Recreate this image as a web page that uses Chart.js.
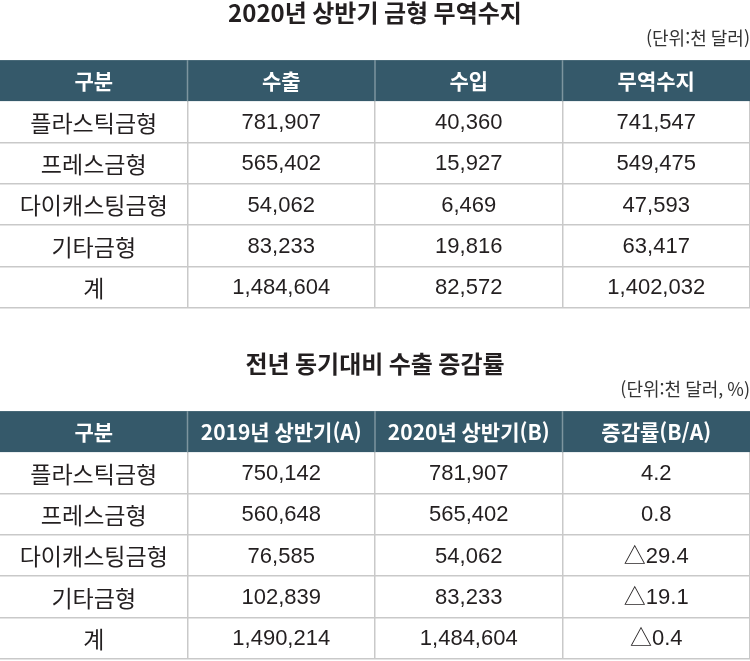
<!DOCTYPE html>
<html lang="ko">
<head>
<meta charset="utf-8">
<title>2020년 상반기 금형 무역수지</title>
<script src="https://cdn.jsdelivr.net/npm/chart.js@4/dist/chart.umd.min.js"></script>
<style>
    html, body { margin: 0; padding: 0; background: #ffffff; }
    #page { position: relative; width: 750px; height: 661px; overflow: hidden; }
    .table-box { position: absolute; left: 0; width: 750px; }
    #tradeBox { top: 0; height: 310px; }
    #growthBox { top: 351px; height: 310px; }
</style>
</head>
<body>
<div id="page">
    <div class="table-box" id="tradeBox"><canvas id="tradeChart" width="750" height="310"></canvas></div>
    <div class="table-box" id="growthBox"><canvas id="growthChart" width="750" height="310"></canvas></div>
</div>
<script>
// ============================================================================
// 금형 무역수지 / 수출 증감률 표 (Chart.js 로 그리기)
// ============================================================================

// --- 데이터 ---
const moldTypes = ['플라스틱금형', '프레스금형', '다이캐스팅금형', '기타금형', '계'];

const tradeColumns = ['구분', '수출', '수입', '무역수지'];
const exportsH1 = [781907, 565402, 54062, 83233, 1484604];
const importsH1 = [40360, 15927, 6469, 19816, 82572];
const tradeBalance = [741547, 549475, 47593, 63417, 1402032];

const growthColumns = ['구분', '2019년 상반기(A)', '2020년 상반기(B)', '증감률(B/A)'];
const exports2019 = [750142, 560648, 76585, 102839, 1490214];
const exports2020 = [781907, 565402, 54062, 83233, 1484604];
const growthRate = [4.2, 0.8, -29.4, -19.1, -0.4];

// --- 스타일 ---
const HEADER_BG = '#35596a';
const HEADER_SEP = '#7d959f';
const GRID_COLOR = '#c9c9c9';
const TEXT_COLOR = '#231f20';
const KR_FONT = "'Noto Sans CJK KR', 'Noto Sans', sans-serif";
const NUM_FONT = "'Liberation Sans', 'Noto Sans CJK KR', sans-serif";

const fmtNumber = v => v.toLocaleString('en-US');
const fmtRate = v => (v < 0 ? '\u25B3' + Math.abs(v).toFixed(1) : v.toFixed(1));

// 헤더 띠 + 셀 텍스트
const tableCellsPlugin = {
    id: 'tableCells',
    afterDraw(chart) {
        const ctx = chart.ctx;
        const xScale = chart.scales.x;
        const area = chart.chartArea;
        const labels = xScale.getLabels();

        // header band
        ctx.save();
        ctx.fillStyle = HEADER_BG;
        ctx.fillRect(area.left, xScale.top, area.right - area.left, xScale.bottom - xScale.top);

        ctx.strokeStyle = HEADER_SEP;
        ctx.lineWidth = 1.5;
        for (let i = 1; i < labels.length; i++) {
            const sx = (xScale.getPixelForValue(i - 1) + xScale.getPixelForValue(i)) / 2;
            ctx.beginPath();
            ctx.moveTo(sx, xScale.top);
            ctx.lineTo(sx, xScale.bottom);
            ctx.stroke();
        }

        ctx.fillStyle = '#ffffff';
        ctx.font = `bold 21px ${KR_FONT}`;
        ctx.textAlign = 'center';
        ctx.textBaseline = 'middle';
        const hy = (xScale.top + xScale.bottom) / 2;
        labels.forEach((label, i) => {
            ctx.fillText(label, xScale.getPixelForValue(i), hy);
        });

        // cells
        ctx.fillStyle = TEXT_COLOR;
        chart.data.datasets.forEach((ds, di) => {
            const meta = chart.getDatasetMeta(di);
            ctx.font = di === 0 ? `23px ${KR_FONT}` : `22px ${NUM_FONT}`;
            meta.data.forEach((el, i) => {
                ctx.fillText(ds.texts[i], el.x, el.y + 1);
            });
        });
        ctx.restore();
    }
};

function renderTable(canvasId, title, unit, columns, columnTexts) {
    const ctx = document.getElementById(canvasId)?.getContext('2d');
    if (!ctx) {
        console.warn(`Canvas with id '${canvasId}' not found`);
        return null;
    }

    const datasets = columnTexts.map((texts, c) => ({
        label: columns[c],
        data: moldTypes.map(m => ({ x: columns[c], y: m })),
        texts: texts,
        pointRadius: 0,
        pointHoverRadius: 0
    }));

    return new Chart(ctx, {
        type: 'scatter',
        data: { datasets },
        plugins: [tableCellsPlugin],
        options: {
            responsive: false,
            animation: false,
            devicePixelRatio: 1,
            events: [],
            layout: { padding: { left: 0, right: 0, top: 0, bottom: 2 } },
            plugins: {
                legend: { display: false },
                tooltip: { enabled: false },
                title: {
                    display: true,
                    text: title,
                    color: TEXT_COLOR,
                    font: { family: KR_FONT, size: 24, weight: 'bold', lineHeight: 1.05 },
                    padding: { top: 0, bottom: 4 }
                },
                subtitle: {
                    display: true,
                    text: unit,
                    align: 'end',
                    color: '#333333',
                    font: { family: KR_FONT, size: 18, weight: 'normal', lineHeight: 1.05 },
                    padding: { top: 0, bottom: 12 }
                }
            },
            scales: {
                x: {
                    type: 'category',
                    labels: columns,
                    position: 'top',
                    offset: true,
                    afterFit: scale => { scale.height = 41; },
                    ticks: { display: false },
                    border: { display: false },
                    grid: {
                        offset: true,
                        drawTicks: false,
                        lineWidth: 1.5,
                        color: c => (c.index === 0 || c.index === columns.length) ? 'rgba(0,0,0,0)' : GRID_COLOR
                    }
                },
                y: {
                    type: 'category',
                    labels: moldTypes,
                    offset: true,
                    afterFit: scale => { scale.width = 0; },
                    ticks: { display: false },
                    border: { display: false },
                    grid: {
                        offset: true,
                        drawTicks: false,
                        lineWidth: 1.5,
                        color: c => c.index === 0 ? 'rgba(0,0,0,0)' : GRID_COLOR
                    }
                }
            }
        }
    });
}

renderTable('tradeChart', '2020년 상반기 금형 무역수지', '(단위:천 달러)', tradeColumns, [
    moldTypes,
    exportsH1.map(fmtNumber),
    importsH1.map(fmtNumber),
    tradeBalance.map(fmtNumber)
]);

renderTable('growthChart', '전년 동기대비 수출 증감률', '(단위:천 달러, %)', growthColumns, [
    moldTypes,
    exports2019.map(fmtNumber),
    exports2020.map(fmtNumber),
    growthRate.map(fmtRate)
]);
</script>
</body>
</html>
